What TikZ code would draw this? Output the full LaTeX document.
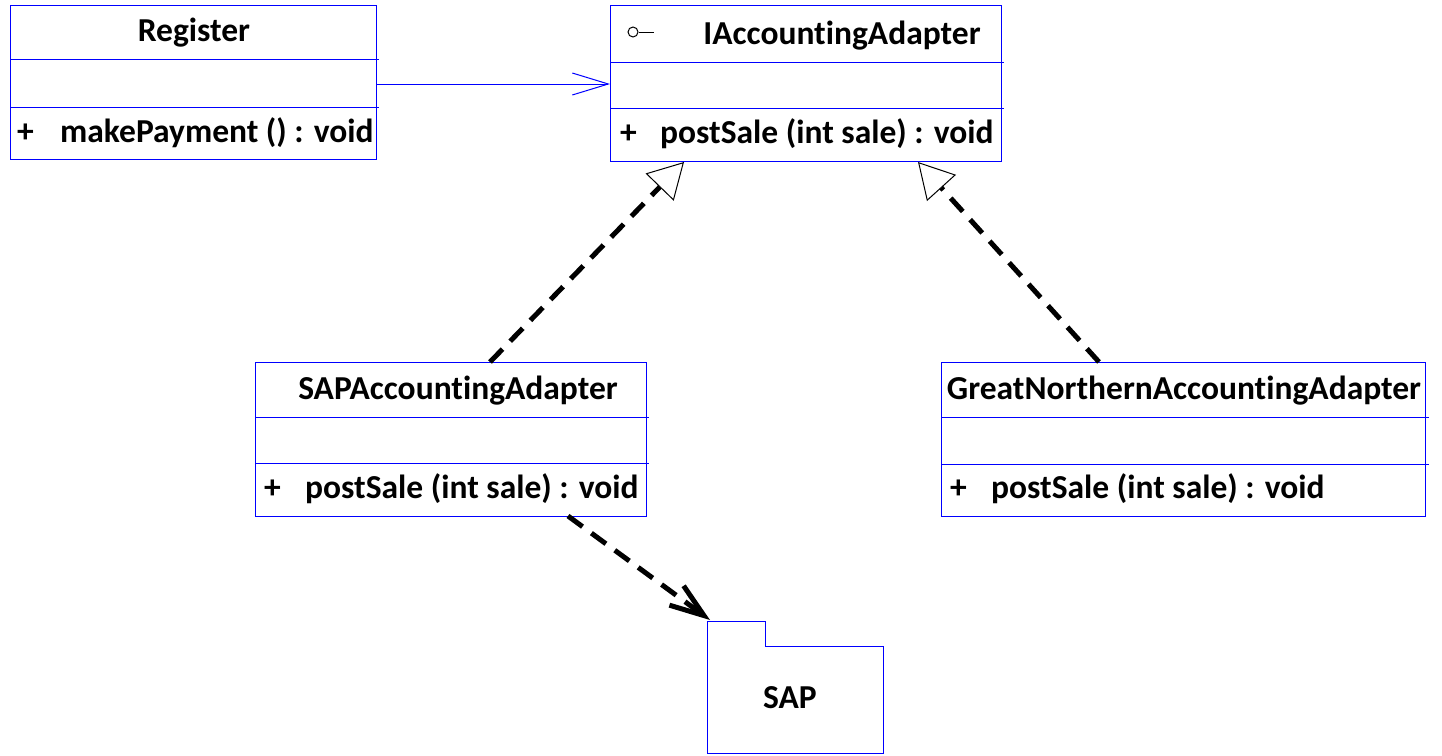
\documentclass[tikz,border=0pt]{standalone}
\usepackage{fontspec}
\setmainfont{Carlito}[Ligatures={NoCommon}]
\usetikzlibrary{arrows.meta}
\begin{document}
\begin{tikzpicture}[x=1pt,y=-1pt,
  cls/.style={draw=blue, line width=1pt, anchor=north west, inner sep=0pt, outer sep=0pt},
  div/.style={draw=blue, line width=1pt},
  txt/.style={inner sep=0pt, anchor=base, font=\fontsize{33.5}{38}\selectfont\bfseries},
  mtxt/.style={inner sep=0pt, anchor=base west, font=\fontsize{33.5}{38}\selectfont\bfseries},
  realize/.style={line width=5pt, dash pattern=on 18pt off 11pt,
    -{Triangle[open, fill=white, length=35pt, width=39pt, line width=1pt]}},
  depend/.style={line width=5pt, dash pattern=on 18pt off 11pt,
    -{Straight Barb[length=34pt, width=24pt, line width=5pt]}},
  assoc/.style={blue, line width=1pt, -{Straight Barb[length=36pt, width=22pt, line width=1pt]}}
]
\useasboundingbox (0,0) rectangle (1442,755);
\fill[white] (0,0) rectangle (1442,755);

% Register
\node[cls, minimum width=366pt, minimum height=154pt] (reg) at (10,5) {};
\draw[div] (10,59) -- (379,59);
\draw[div] (10,107) -- (379,107);
\node[txt] (regt) at (194,41) {Register};
\node[mtxt] (regp) at (17,142) {+};
\node[mtxt] (regm) at (60,142) {makePayment () : void};

% IAccountingAdapter
\node[cls, minimum width=391pt, minimum height=156pt] (iacc) at (610,5) {};
\draw[div] (610,62) -- (1004,62);
\draw[div] (610,108) -- (1004,108);
\node[draw, line width=1pt, circle, minimum size=10pt, inner sep=0pt] (icon) at (633,32) {};
\coordinate (iconend) at (654,32);
\draw[line width=1pt] (icon.east) -- (iconend);
\node[txt] (iacct) at (842,44) {IAccountingAdapter};
\node[mtxt] (iaccp) at (620,143) {+};
\node[mtxt] (iaccm) at (660,143) {postSale (int sale) : void};

% SAPAccountingAdapter
\node[cls, minimum width=391pt, minimum height=154pt] (sapa) at (255,362) {};
\draw[div] (255,417) -- (649,417);
\draw[div] (255,463) -- (649,463);
\node[txt] (sapat) at (458,399) {SAPAccountingAdapter};
\node[mtxt] (sapap) at (264,498) {+};
\node[mtxt] (sapam) at (305,498) {postSale (int sale) : void};

% GreatNorthernAccountingAdapter
\node[cls, minimum width=484pt, minimum height=154pt] (gn) at (941,362) {};
\draw[div] (941,417) -- (1429,417);
\draw[div] (941,464) -- (1429,464);
\node[txt] (gnt) at (1184,399) {GreatNorthernAccountingAdapter};
\node[mtxt] (gnp) at (950,498) {+};
\node[mtxt] (gnm) at (991,498) {postSale (int sale) : void};

% SAP package
\node[inner sep=0pt, outer sep=0pt, anchor=north west, minimum width=176pt, minimum height=107pt] (sap) at (707,646) {};
\coordinate (taptop) at (707,621);
\coordinate (tabtr) at (765,621);
\coordinate (tabbr) at (765,646);
\draw[blue, line width=1pt] (sap.south west) -- (taptop) -- (tabtr) -- (tabbr) -- (sap.north east) -- (sap.south east) -- cycle;
\node[txt] (sapt) at (790,708) {SAP};

% connectors
\coordinate (a1s) at (376,84);
\coordinate (a1e) at (610,84);
\draw[assoc] (a1s) -- (a1e);

\coordinate (r1s) at (490,362);
\coordinate (r1e) at (684,162);
\draw[realize] (r1s) -- (r1e);

\coordinate (r2s) at (1099,362);
\coordinate (r2e) at (918,162);
\draw[realize] (r2s) -- (r2e);

\coordinate (d1s) at (568,516);
\coordinate (d1e) at (710,620);
\draw[depend] (d1s) -- (d1e);
\end{tikzpicture}
\end{document}
